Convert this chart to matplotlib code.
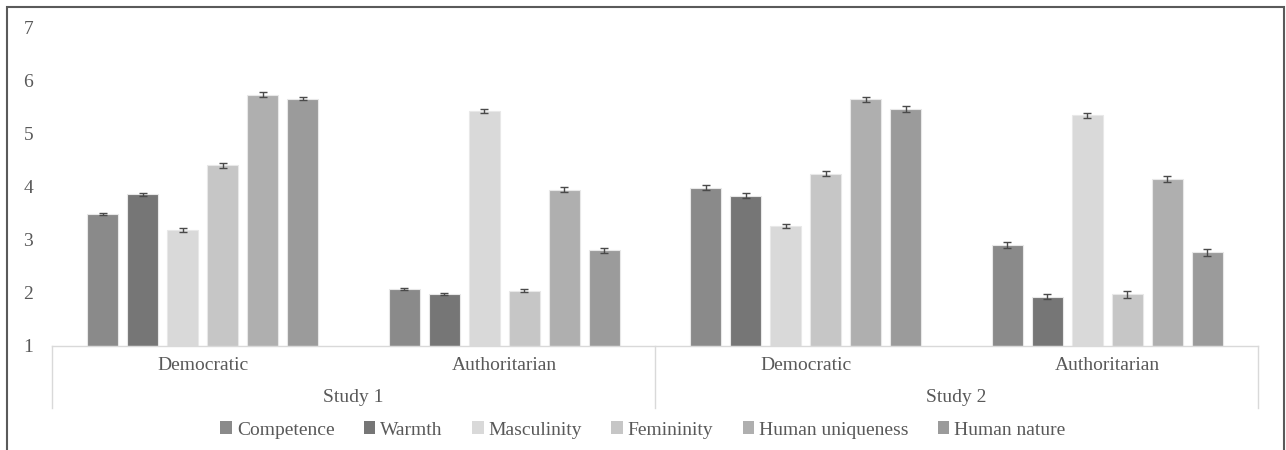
import matplotlib
matplotlib.use('Agg')
import matplotlib.pyplot as plt
from matplotlib.patches import Patch, Rectangle
import numpy as np

plt.rcParams['font.family'] = ['Liberation Serif', 'DejaVu Serif']

# data
categories = ['Democratic', 'Authoritarian', 'Democratic', 'Authoritarian']
studies = ['Study 1', 'Study 2']
series = ['Competence', 'Warmth', 'Masculinity', 'Femininity',
          'Human uniqueness', 'Human nature']
competence = [3.48, 2.07, 3.98, 2.90]
warmth = [3.85, 1.97, 3.83, 1.93]
masculinity = [3.18, 5.42, 3.26, 5.34]
femininity = [4.40, 2.04, 4.24, 1.97]
human_uniqueness = [5.73, 3.94, 5.64, 4.14]
human_nature = [5.65, 2.80, 5.46, 2.76]
err_competence = [0.02, 0.02, 0.05, 0.05]
err_warmth = [0.03, 0.02, 0.04, 0.04]
err_masculinity = [0.04, 0.03, 0.04, 0.05]
err_femininity = [0.05, 0.03, 0.05, 0.07]
err_human_uniqueness = [0.04, 0.05, 0.05, 0.06]
err_human_nature = [0.03, 0.05, 0.05, 0.06]

values = [competence, warmth, masculinity, femininity, human_uniqueness, human_nature]
errors = [err_competence, err_warmth, err_masculinity, err_femininity,
          err_human_uniqueness, err_human_nature]
colors = ['#8a8a8a', '#767676', '#d9d9d9', '#c6c6c6', '#afafaf', '#9b9b9b']

W, H = 1286, 450
fig = plt.figure(figsize=(W / 100, H / 100), dpi=100)
ax = fig.add_axes([52 / W, (H - 346) / H, (1258 - 52) / W, (346 - 27) / H])

x = np.arange(len(categories))
slot = 40 / 301.5
bw = 31 / 301.5
for i, (vals, errs, c) in enumerate(zip(values, errors, colors)):
    ax.bar(x + (i - 2.5) * slot, np.array(vals) - 1, bw, bottom=1, color=c,
           edgecolor='#e8e8e8', linewidth=0.8, zorder=2)
    ax.errorbar(x + (i - 2.5) * slot, vals, yerr=errs, fmt='none',
                ecolor='#4a4a4a', elinewidth=1, capsize=3, capthick=1, zorder=3)

ax.set_xlim(-0.5, 3.5)
ax.set_ylim(1, 7)
ax.set_yticks(range(1, 8))
ax.set_xticks([])
ax.tick_params(axis='y', length=0, pad=13.5, labelsize=14, labelcolor='#595959')
for s in ['top', 'right', 'left']:
    ax.spines[s].set_visible(False)
ax.spines['bottom'].set_color('#d9d9d9')
ax.spines['bottom'].set_linewidth(1)

# category axis box below the plot
trans = ax.get_xaxis_transform()
depth = -(408 - 346) / (346 - 27)
for xv in [-0.5, 1.5, 3.5]:
    ax.plot([xv, xv], [0, depth], transform=trans, color='#d9d9d9', lw=1,
            clip_on=False)
for xi, lab in zip(x, categories):
    ax.text(xi, -20 / 319, lab, transform=trans, ha='center', va='center',
            fontsize=14, color='#595959')
for si, st in enumerate(studies):
    ax.text(0.5 + 2 * si, -52 / 319, st, transform=trans, ha='center',
            va='center', fontsize=14, color='#595959')

handles = [Patch(facecolor=c, edgecolor='none') for c in colors]
fig.legend(handles, series, loc='center', bbox_to_anchor=(643 / W, 20 / H),
           ncol=6, frameon=False, fontsize=14, handlelength=0.6,
           handleheight=0.6, handletextpad=0.25, columnspacing=1.5,
           labelcolor='#595959')

fig.patches.append(Rectangle((7 / W, -0.05), (1284 - 7) / W, (H - 7) / H + 0.05,
                             transform=fig.transFigure, fill=False,
                             edgecolor='#5a5a5a', linewidth=1.5))

fig.savefig('out.png', dpi=100)
